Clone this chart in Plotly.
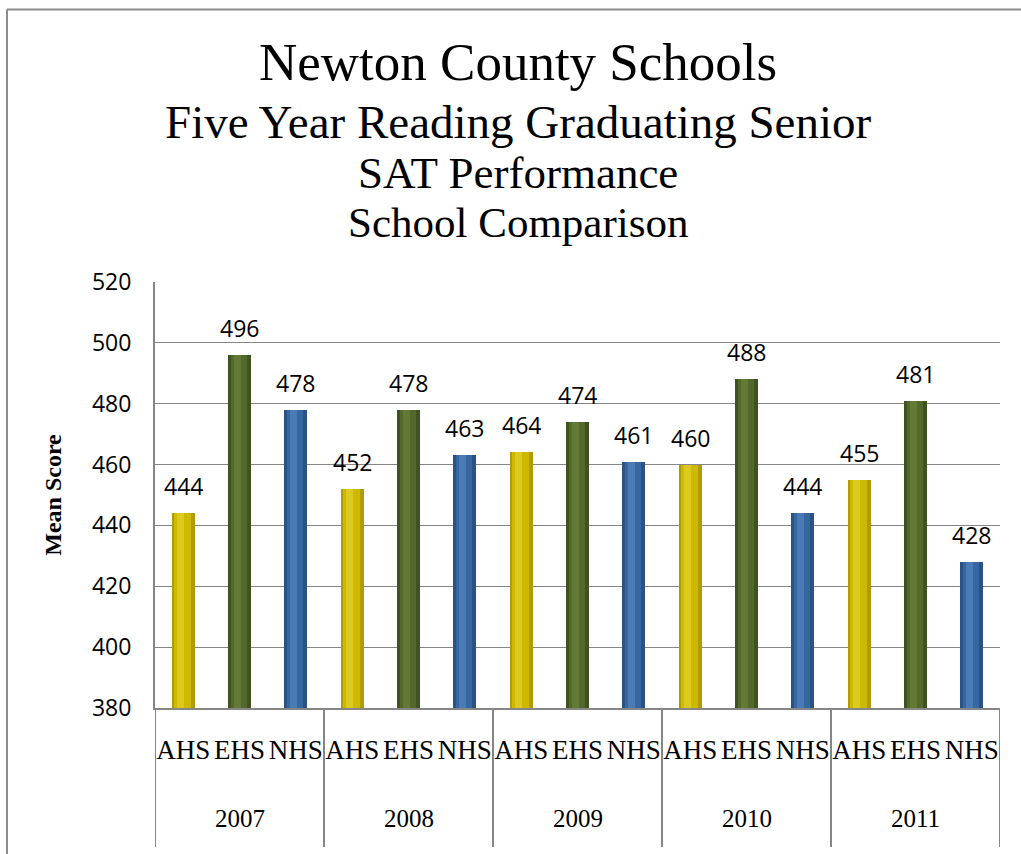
import plotly.graph_objects as go

years = ["2007", "2008", "2009", "2010", "2011"]
schools = ["AHS", "EHS", "NHS"]
ahs = [444, 452, 464, 460, 455]
ehs = [496, 478, 474, 488, 481]
nhs = [478, 463, 461, 444, 428]
title_lines = ["Newton County Schools", "Five Year Reading Graduating Senior",
               "SAT Performance", "School Comparison"]

series = {"AHS": ahs, "EHS": ehs, "NHS": nhs}
edge_col = {"AHS": "#B09C00", "EHS": "#3F5220", "NHS": "#2A5384"}
mid_col = {"AHS": "#CDB900", "EHS": "#53692B", "NHS": "#3767A0"}
hi_col = {"AHS": "#DCCB1E", "EHS": "#627A36", "NHS": "#4A7BB4"}

SERIF = "Liberation Serif, Times New Roman, serif"
W, H = 1021, 854
L, R, T, B = 155, 21, 282, 146
ph = H - T - B
pw = W - L - R

def py(px):
    return (H - B - px) / ph

def pxr(px):
    return (px - L) / pw

fig = go.Figure()
bw = 0.41
for si, s in enumerate(schools):
    xs = [g * 3 + si for g in range(len(years))]
    vals = series[s]
    fig.add_trace(go.Bar(x=xs, y=vals, width=bw, marker=dict(color=edge_col[s], line=dict(width=0)),
                         showlegend=False, hoverinfo="skip"))
    fig.add_trace(go.Bar(x=xs, y=vals, width=bw * 0.7, offset=-bw * 0.38,
                         marker=dict(color=mid_col[s], line=dict(width=0)), showlegend=False, hoverinfo="skip"))
    fig.add_trace(go.Bar(x=xs, y=vals, width=bw * 0.3, offset=-bw * 0.25,
                         marker=dict(color=hi_col[s], line=dict(width=0)), showlegend=False, hoverinfo="skip"))
    for x, v in zip(xs, vals):
        fig.add_annotation(x=x, y=v, text=str(v), showarrow=False, yanchor="middle", yshift=27,
                           font=dict(family="Open Sans", size=23, color="#000000"))

tick_x = [g * 3 + si for g in range(len(years)) for si in range(len(schools))]
tick_t = [s for g in range(len(years)) for s in schools]

for g, yr in enumerate(years):
    fig.add_annotation(x=g * 3 + 1, y=py(818), xref="x", yref="paper", text=yr, showarrow=False,
                       yanchor="middle", font=dict(family=SERIF, size=25, color="#000000"))
for g in range(len(years) + 1):
    fig.add_shape(type="line", xref="x", yref="paper", x0=g * 3 - 0.5, x1=g * 3 - 0.5,
                  y0=0, y1=py(847), line=dict(color="#868686", width=2))

# outer frame
fig.add_shape(type="line", xref="paper", yref="paper", x0=pxr(7), x1=pxr(W + 5), y0=py(9.5), y1=py(9.5),
              line=dict(color="#8C8C8C", width=2))
fig.add_shape(type="line", xref="paper", yref="paper", x0=pxr(7), x1=pxr(7), y0=py(9.5), y1=py(H + 5),
              line=dict(color="#8C8C8C", width=2))

title_y = [62, 122, 173, 222]
title_sz = [53, 47, 45, 43]
for t, yy, sz in zip(title_lines, title_y, title_sz):
    fig.add_annotation(x=pxr(518), y=py(yy), xref="paper", yref="paper", text=t, showarrow=False,
                       xanchor="center", yanchor="middle",
                       font=dict(family=SERIF, size=sz, color="#000000"))

fig.update_layout(
    width=W, height=H, barmode="overlay", bargap=0,
    margin=dict(l=L, r=R, t=T, b=B, pad=0),
    paper_bgcolor="white", plot_bgcolor="white",
    xaxis=dict(range=[-0.5, 14.5], tickvals=tick_x, ticktext=tick_t, showgrid=False, zeroline=False,
               showline=True, linecolor="#868686", linewidth=2, ticks="", ticklabelstandoff=17,
               tickangle=0,
               tickfont=dict(family=SERIF, size=27, color="#000000")),
    yaxis=dict(range=[380, 520], dtick=20, showgrid=True, gridcolor="#868686", gridwidth=1,
               zeroline=False, showline=True, linecolor="#868686", linewidth=2, ticks="",
               ticklabelstandoff=17, tickfont=dict(family="Open Sans", size=23, color="#000000"),
               title=dict(text="<b>Mean Score</b>", standoff=24,
                          font=dict(family=SERIF, size=24, color="#000000"))),
)

fig.write_html("out.html", config={"displayModeBar": False},
               post_script="document.body.style.margin='0';")
